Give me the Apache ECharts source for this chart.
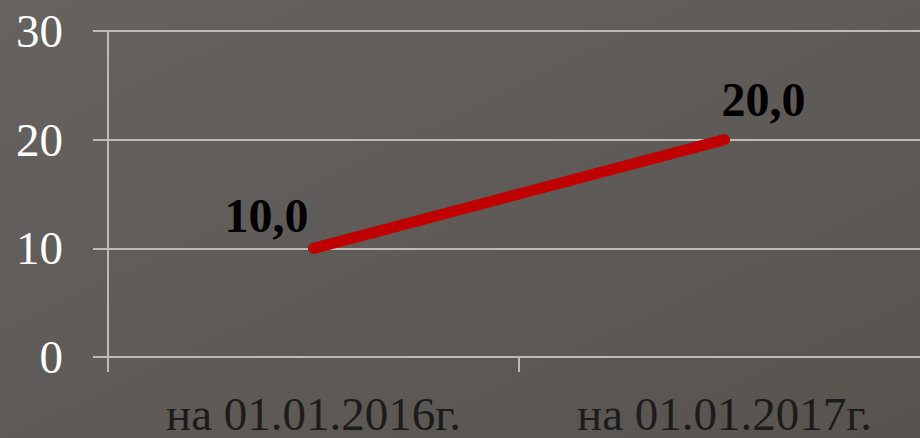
<!DOCTYPE html>
<html>
<head>
<meta charset="utf-8">
<script src="https://cdn.jsdelivr.net/npm/echarts@6/dist/echarts.min.js"></script>
<style>
  html, body { margin: 0; padding: 0; }
  #chart { width: 920px; height: 438px; }
</style>
</head>
<body>
<div id="chart"></div>
<script>
  var categories = ['на 01.01.2016г.', 'на 01.01.2017г.'];
  var values = [10.0, 20.0];
  var yTicks = [0, 10, 20, 30];

  var lineColor = '#c00000';
  var gridColor = '#bdbab7';
  var serif = '"Liberation Serif", "DejaVu Serif", serif';

  // label offsets per point: first sits up-left, second up-right
  var labelOffsets = [[-47, -3], [39, -11]];

  var chart = echarts.init(document.getElementById('chart'), null, { renderer: 'svg' });
  chart.setOption({
    animation: false,
    backgroundColor: {
      type: 'linear',
      x: 0, y: 0, x2: 1, y2: 1,
      colorStops: [
        { offset: 0, color: '#66625f' },
        { offset: 1, color: '#57534f' }
      ]
    },
    grid: { left: 108, width: 822, top: 31, height: 326, outerBoundsMode: 'none', containLabel: false },
    xAxis: {
      type: 'category',
      data: categories,
      boundaryGap: true,
      axisLine: { lineStyle: { color: gridColor, width: 2 } },
      axisTick: { show: true, length: 15, lineStyle: { color: gridColor, width: 2 } },
      axisLabel: { color: '#1c1c1c', fontFamily: serif, fontSize: 47, margin: 33 }
    },
    yAxis: {
      type: 'value',
      min: yTicks[0],
      max: yTicks[yTicks.length - 1],
      interval: yTicks[1] - yTicks[0],
      axisLine: { show: true, lineStyle: { color: gridColor, width: 2 } },
      axisTick: { show: true, length: 15, lineStyle: { color: gridColor, width: 2 } },
      splitLine: { lineStyle: { color: gridColor, width: 2 } },
      axisLabel: {
        color: '#ffffff', fontFamily: serif, fontSize: 47, margin: 45,
        formatter: function(v) { return String(v); }
      }
    },
    series: [{
      type: 'line',
      data: values.map(function(v, i) {
        return {
          value: v,
          label: { offset: labelOffsets[i] }
        };
      }),
      symbol: 'circle',
      symbolSize: 1,
      itemStyle: { color: lineColor },
      lineStyle: { color: lineColor, width: 11, cap: 'round' },
      label: {
        show: true,
        position: 'top',
        color: '#000000',
        fontFamily: serif,
        fontWeight: 'bold',
        fontSize: 48,
        formatter: function(p) { return p.value.toFixed(1).replace('.', ','); }
      }
    }]
  });
  window.addEventListener('resize', function() { chart.resize(); });
</script>
</body>
</html>
